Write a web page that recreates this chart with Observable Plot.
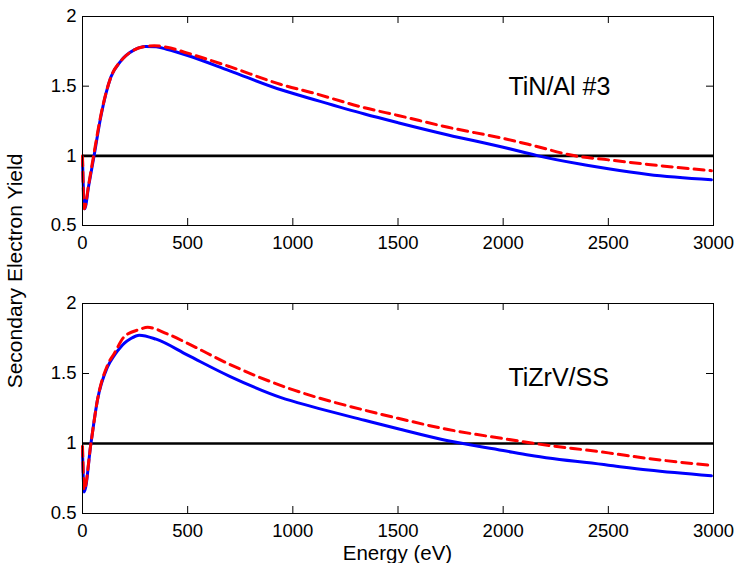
<!DOCTYPE html>
<html>
<head>
<meta charset="utf-8">
<script src="https://cdn.jsdelivr.net/npm/d3@7"></script>
<script src="https://cdn.jsdelivr.net/npm/@observablehq/plot@0.6"></script>
<style>
  html, body { margin: 0; padding: 0; background: #fff; }
  #wrap { position: relative; width: 737px; height: 563px; background: #fff; }
  #wrap svg { display: block; }
  #overlay { position: absolute; left: 0; top: 0; pointer-events: none; }
</style>
</head>
<body>
<div id="wrap"></div>
<script>
// ---- data ----
const xTicks = [0, 500, 1000, 1500, 2000, 2500, 3000];
const yTicks = [0.5, 1, 1.5, 2];

// Panel 1: TiN/Al #3
const tinSolidE = [0, 10, 30, 55, 87, 135, 182, 246, 300, 350, 400, 500, 700, 944, 1087, 1341, 1500, 1738, 2000, 2127, 2167, 2405, 2500, 2690, 2990];
const tinSolidY = [0.97, 0.62, 0.79, 1.0, 1.28, 1.565, 1.68, 1.76, 1.785, 1.783, 1.765, 1.72, 1.61, 1.474, 1.41, 1.30, 1.238, 1.15, 1.062, 1.015, 1.0, 0.931, 0.907, 0.866, 0.828];
const tinDashE = [0, 8, 30, 55, 87, 135, 182, 246, 300, 341, 400, 500, 700, 944, 1087, 1341, 1500, 1738, 2000, 2127, 2341, 2500, 2690, 2990];
const tinDashY = [1.0, 0.62, 0.80, 1.02, 1.29, 1.565, 1.68, 1.76, 1.785, 1.79, 1.78, 1.737, 1.64, 1.512, 1.455, 1.345, 1.29, 1.205, 1.125, 1.08, 1.0, 0.971, 0.938, 0.893];

// Panel 2: TiZrV/SS
const tzSolidE = [0, 8, 40, 71, 119, 151, 182, 198, 230, 270, 350, 500, 700, 944, 1087, 1341, 1500, 1738, 2000, 2127, 2500, 2690, 2990];
const tzSolidY = [0.95, 0.654, 1.0, 1.31, 1.547, 1.63, 1.69, 1.715, 1.75, 1.774, 1.745, 1.631, 1.48, 1.328, 1.265, 1.166, 1.105, 1.019, 0.95, 0.916, 0.845, 0.81, 0.769];
const tzDashE = [0, 8, 40, 71, 119, 151, 198, 270, 310, 400, 500, 700, 975, 1087, 1341, 1500, 1738, 2000, 2127, 2500, 2690, 2990];
const tzDashY = [0.98, 0.67, 1.0, 1.31, 1.56, 1.643, 1.762, 1.814, 1.83, 1.785, 1.715, 1.565, 1.397, 1.342, 1.238, 1.18, 1.10, 1.035, 1.005, 0.933, 0.893, 0.843];

const panelLabels = ["TiN/Al #3", "TiZrV/SS"];
const labelPosE = [2025, 2025];
const labelPosY = [1.438, 1.41];
const xTitle = "Energy (eV)";
const yTitle = "Secondary Electron Yield";

// ---- layout ----
const W = 737;
const ML = 82, MR = 24;
const FONT = "'Liberation Sans', Arial, Helvetica, sans-serif";
const TICK = 7;
const fmt = d => String(d);

function zip(xs, ys) { return xs.map((x, i) => ({x, y: ys[i]})); }

function panel({height, marginTop, marginBottom, solid, dash, label, lx, ly}) {
  const plotH = height - marginTop - marginBottom;
  const plotW = W - ML - MR;
  return Plot.plot({
    width: W, height, marginLeft: ML, marginRight: MR, marginTop, marginBottom,
    style: {fontFamily: FONT, fontSize: "18.5px", color: "#000", background: "#fff", overflow: "visible"},
    x: {domain: [0, 3000], ticks: xTicks, tickFormat: fmt, label: null},
    y: {domain: [0.5, 2], ticks: yTicks, tickFormat: fmt, label: null},
    marks: [
      Plot.ruleY([1], {stroke: "#000", strokeWidth: 2.7}),
      Plot.line(solid, {x: "x", y: "y", stroke: "#0000ff", strokeWidth: 3, curve: "monotone-x"}),
      Plot.line(dash, {x: "x", y: "y", stroke: "#ff0000", strokeWidth: 3, strokeDasharray: "10,6", curve: "monotone-x"}),
      Plot.tickX(xTicks, {stroke: "#000", strokeWidth: 1, insetTop: plotH - TICK}),
      Plot.tickX(xTicks, {stroke: "#000", strokeWidth: 1, insetBottom: plotH - TICK}),
      Plot.tickY(yTicks, {stroke: "#000", strokeWidth: 1, insetRight: plotW - TICK}),
      Plot.tickY(yTicks, {stroke: "#000", strokeWidth: 1, insetLeft: plotW - TICK}),
      Plot.frame({stroke: "#000", strokeWidth: 1}),
      Plot.axisX(xTicks, {tickSize: 0, tickPadding: 10, fontSize: 18.5, tickFormat: fmt, label: null}),
      Plot.axisY(yTicks, {tickSize: 0, tickPadding: 6, fontSize: 18.5, tickFormat: fmt, label: null}),
      Plot.text([label], {x: [lx], y: [ly], text: d => d, textAnchor: "start", lineAnchor: "bottom", fontSize: 25, fill: "#000"})
    ]
  });
}

const wrap = document.getElementById("wrap");
wrap.appendChild(panel({
  height: 270, marginTop: 16, marginBottom: 45,
  solid: zip(tinSolidE, tinSolidY), dash: zip(tinDashE, tinDashY),
  label: panelLabels[0], lx: labelPosE[0], ly: labelPosY[0]
}));
wrap.appendChild(panel({
  height: 293, marginTop: 33, marginBottom: 50,
  solid: zip(tzSolidE, tzSolidY), dash: zip(tzDashE, tzDashY),
  label: panelLabels[1], lx: labelPosE[1], ly: labelPosY[1]
}));

// axis titles shared by both panels
const ov = d3.select(wrap).append("svg").attr("id", "overlay")
  .attr("width", W).attr("height", 563)
  .style("font-family", FONT);
ov.append("text")
  .attr("x", (ML + (W - MR)) / 2).attr("y", 559.5)
  .attr("text-anchor", "middle").attr("font-size", 20.5).attr("fill", "#000")
  .text(xTitle);
ov.append("text")
  .attr("transform", "translate(22,271) rotate(-90)")
  .attr("text-anchor", "middle").attr("font-size", 21).attr("fill", "#000")
  .text(yTitle);
</script>
</body>
</html>
